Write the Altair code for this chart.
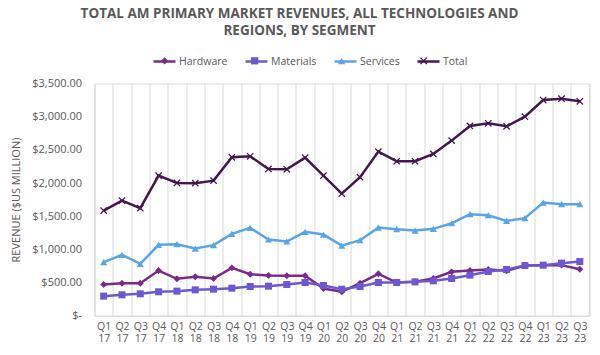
import altair as alt
import pandas as pd

quarters = ["Q1 17", "Q2 17", "Q3 17", "Q4 17", "Q1 18", "Q2 18", "Q3 18", "Q4 18",
            "Q1 19", "Q2 19", "Q3 19", "Q4 19", "Q1 20", "Q2 20", "Q3 20", "Q4 20",
            "Q1 21", "Q2 21", "Q3 21", "Q4 21", "Q1 22", "Q2 22", "Q3 22", "Q4 22",
            "Q1 23", "Q2 23", "Q3 23"]

hardware = [470, 490, 490, 680, 556, 586, 561, 721, 626, 606, 601, 601, 410, 360,
            491, 631, 500, 511, 561, 661, 681, 696, 676, 756, 762, 762, 701]
materials = [295, 315, 330, 360, 370, 390, 400, 415, 440, 445, 470, 500, 455, 400,
             440, 500, 500, 510, 526, 561, 611, 666, 696, 756, 762, 792, 816]
services = [807, 917, 782, 1068, 1078, 1012, 1063, 1233, 1324, 1148, 1118, 1264, 1223, 1057,
            1138, 1328, 1304, 1283, 1309, 1394, 1530, 1515, 1429, 1470, 1705, 1681, 1681]
total = [1584, 1735, 1620, 2111, 2001, 1998, 2036, 2388, 2403, 2212, 2207, 2383, 2111, 1840,
         2087, 2473, 2328, 2328, 2438, 2639, 2860, 2900, 2855, 3000, 3251, 3271, 3232]

series = ["Hardware", "Materials", "Services", "Total"]
colors = ["#7B2A8A", "#6E58D0", "#5AA5E6", "#44164F"]
x_path = ("M-1,-0.75L-0.75,-1L0,-0.25L0.75,-1L1,-0.75L0.25,0L1,0.75L0.75,1"
          "L0,0.25L-0.75,1L-1,0.75L-0.25,0Z")
shapes = ["diamond", "square", "triangle-up", x_path]
sizes = [48, 52, 64, 72]
y_ticks = [0, 500, 1000, 1500, 2000, 2500, 3000, 3500]

pt_series = ["pt_" + s for s in series]

rows = []
for name, vals in zip(series, [hardware, materials, services, total]):
    for q, v in zip(quarters, vals):
        rows.append({"Quarter": q, "Segment": "pt_" + name, "Line": name, "Revenue": v})
df = pd.DataFrame(rows)

FONT = "Open Sans"
GREY = "#595959"

x_enc = alt.X(
    "Quarter:N", sort=quarters,
    scale=alt.Scale(type="band", paddingInner=0, paddingOuter=0),
    axis=alt.Axis(title=None, labelAngle=0, labelExpr="split(datum.label, ' ')",
                  grid=True, tickBand="extent", ticks=False, domain=True,
                  gridColor="#D9D9D9", domainColor="#D9D9D9", labelColor=GREY,
                  labelFont=FONT, labelFontSize=10.5, labelPadding=6,
                  labelLineHeight=12, labelBaseline="top"),
)
y_enc = alt.Y(
    "Revenue:Q", scale=alt.Scale(domain=[0, 3500]),
    axis=alt.Axis(values=y_ticks, grid=False, ticks=False, domain=False,
                  labelExpr="datum.value == 0 ? '$-' : '$' + format(datum.value, ',.2f')",
                  labelColor=GREY, labelFont=FONT, labelFontSize=11, labelPadding=13,
                  title="REVENUE ($US MILLION)", titleFont=FONT, titleFontSize=11,
                  titleFontWeight="normal", titleColor=GREY,
                  titleX=-73.5, titleY=116, titleAngle=270),
)

lines = alt.Chart(df).mark_line(strokeWidth=2.5).encode(
    x=x_enc, y=y_enc,
    color=alt.Color("Line:N", sort=series,
                    scale=alt.Scale(domain=series, range=colors),
                    legend=alt.Legend(title=None, orient="none", direction="horizontal",
                                      legendX=57.5, legendY=-34.5, symbolType="stroke",
                                      symbolSize=484, symbolStrokeWidth=2.5,
                                      labelFont=FONT, labelFontSize=10.5, labelColor=GREY,
                                      labelOffset=2, columnPadding=12, zindex=1)),
)

pt_legend = alt.Legend(title=None, orient="none", direction="horizontal",
                       legendX=64.9, legendY=-28, symbolSize=52,
                       labelExpr="replace(datum.label, 'pt_', '')",
                       labelFont=FONT, labelFontSize=10.5, labelColor=GREY,
                       labelOffset=16.8, columnPadding=12, labelOpacity=0, zindex=2)

points = alt.Chart(df).mark_point(filled=True, opacity=1).encode(
    x=x_enc, y=y_enc,
    shape=alt.Shape("Segment:N", sort=pt_series,
                    scale=alt.Scale(domain=pt_series, range=shapes), legend=pt_legend),
    fill=alt.Fill("Segment:N", sort=pt_series,
                  scale=alt.Scale(domain=pt_series, range=colors), legend=pt_legend),
    size=alt.Size("Segment:N", sort=pt_series,
                  scale=alt.Scale(domain=pt_series, range=sizes), legend=None),
)

chart = alt.layer(lines, points).resolve_scale(color="independent", fill="independent", shape="independent").properties(
    width=494.5, height=232.2,
    autosize=alt.AutoSizeParams(type="none"),
    padding={"left": 94.5, "top": 83.5, "right": 11, "bottom": 39.3},
    title=alt.TitleParams(
        ["TOTAL AM PRIMARY MARKET REVENUES, ALL TECHNOLOGIES AND", "REGIONS, BY SEGMENT"],
        font=FONT, fontSize=13.5, fontWeight="bold", color=GREY,
        anchor="middle", frame="bounds", lineHeight=17, offset=12),
).configure_view(stroke=None).configure(background="white")

chart.save("out.html", embed_options={"renderer": "svg", "actions": False})
